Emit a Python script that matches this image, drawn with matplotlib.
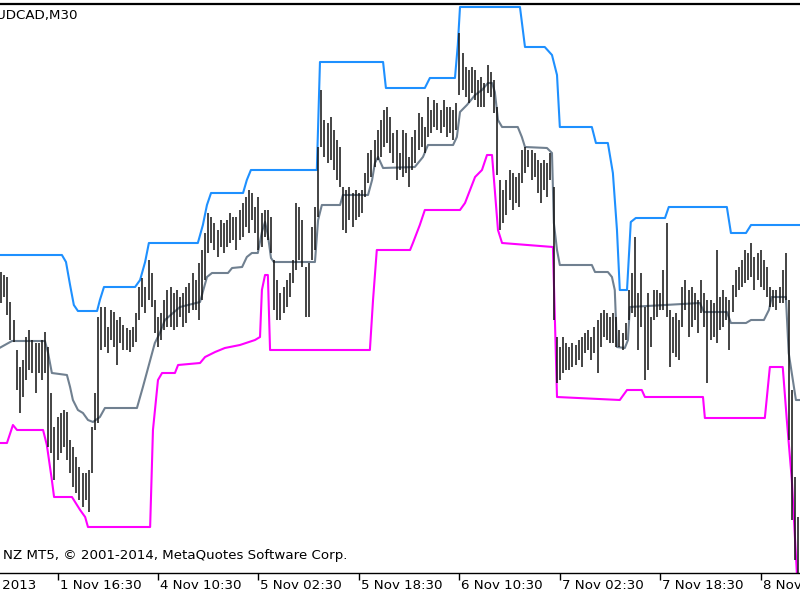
import numpy as np
import matplotlib.pyplot as plt

# bar highs / lows (M30 bars, price points)
highs = [328, 325, 323, 298, 280, 250, 233, 240, 263, 270,
         260, 257, 257, 260, 268, 253, 207, 173, 183, 187,
         190, 188, 160, 153, 143, 133, 127, 127, 130, 173,
         207, 283, 293, 293, 273, 290, 288, 280, 283, 275,
         272, 270, 273, 287, 313, 322, 313, 340, 327, 300,
         283, 287, 300, 310, 313, 307, 310, 303, 307, 313,
         317, 327, 320, 337, 350, 367, 387, 383, 377, 370,
         380, 377, 380, 387, 383, 383, 390, 397, 403, 410,
         407, 393, 403, 387, 390, 390, 383, 340, 320, 307,
         313, 320, 327, 340, 397, 393, 380, 333, 337, 373,
         393, 453, 510, 480, 477, 483, 470, 460, 453, 413,
         410, 413, 407, 410, 407, 410, 427, 447, 450, 460,
         470, 480, 490, 493, 483, 467, 470, 447, 470, 467,
         443, 463, 470, 487, 483, 473, 503, 490, 500, 497,
         490, 500, 493, 493, 490, 497, 567, 547, 533, 530,
         533, 530, 520, 523, 517, 535, 528, 520, 493, 420,
         410, 420, 430, 427, 423, 427, 450, 453, 450, 450,
         447, 440, 437, 440, 437, 447, 413, 263, 253, 263,
         257, 253, 257, 255, 260, 263, 267, 270, 263, 273,
         280, 287, 290, 287, 283, 287, 283, 270, 267, 277,
         310, 327, 363, 307, 327, 293, 307, 283, 310, 310,
         307, 330, 377, 290, 283, 287, 280, 313, 320, 310,
         313, 307, 300, 320, 307, 300, 300, 297, 350, 303,
         310, 303, 300, 315, 330, 333, 340, 350, 347, 357,
         343, 347, 350, 340, 333, 313, 310, 310, 313, 330,
         347, 300, 210, 123, 83]
lows = [297, 303, 285, 260, 258, 210, 187, 203, 220, 230,
        227, 207, 227, 220, 227, 153, 147, 120, 140, 147,
        153, 140, 127, 113, 107, 100, 93, 100, 88, 127,
        170, 177, 250, 253, 247, 260, 253, 235, 257, 250,
        250, 248, 253, 258, 280, 293, 287, 300, 293, 267,
        253, 260, 270, 273, 273, 270, 273, 283, 273, 277,
        287, 290, 290, 280, 300, 320, 347, 357, 350, 343,
        353, 347, 353, 357, 360, 350, 360, 363, 373, 367,
        380, 367, 350, 353, 363, 360, 347, 290, 280, 280,
        287, 293, 303, 317, 330, 340, 333, 283, 283, 340,
        350, 383, 453, 443, 437, 440, 430, 420, 413, 370,
        367, 380, 373, 380, 383, 387, 403, 417, 423, 433,
        440, 443, 453, 457, 447, 437, 420, 430, 423, 427,
        413, 430, 437, 450, 453, 447, 463, 467, 473, 470,
        467, 473, 463, 467, 460, 470, 505, 510, 503, 497,
        507, 500, 493, 493, 493, 507, 503, 487, 425, 370,
        377, 385, 400, 390, 397, 393, 417, 427, 433, 420,
        423, 407, 397, 410, 403, 420, 280, 217, 220, 227,
        230, 230, 233, 235, 240, 233, 247, 250, 240, 247,
        227, 253, 263, 260, 257, 257, 253, 253, 250, 260,
        280, 287, 283, 250, 273, 220, 230, 253, 280, 283,
        290, 290, 283, 233, 247, 243, 240, 273, 290, 263,
        273, 280, 267, 287, 273, 217, 260, 263, 257, 270,
        273, 280, 250, 288, 303, 310, 313, 317, 320, 323,
        310, 320, 313, 310, 303, 293, 293, 290, 297, 297,
        300, 160, 80, 40, 10]

# channel lines: (bar index, value) where the line changes
upper_x = [-0.5, 19.4, 20.7, 22.0, 23.2, 24.5, 30.6, 31.5, 32.8, 42.7, 44.3, 45.9, 47.1,
           62.7, 64.3, 65.6, 66.9, 77.1, 78.3, 79.6, 100.6, 101.6, 121.7, 122.6, 135.0,
           136.6, 144.6, 145.5, 146.2, 165.3, 166.9, 173.2, 175.5, 177.1, 178.0, 188.2,
           189.5, 193.3, 194.9, 196.2, 197.1, 199.4, 200.6, 202.2, 211.5, 212.7, 231.2,
           232.5, 237.3, 238.9, 254.5]
upper_y = [345, 345, 338, 315, 295, 289, 289, 300, 313, 313, 320, 338, 357,
           357, 375, 395, 407, 407, 420, 430, 430, 538, 538, 512, 512,
           522, 522, 555, 593, 593, 553, 553, 545, 525, 473, 473,
           457, 457, 427, 370, 310, 310, 378, 382, 382, 393, 393,
           367, 367, 375, 375]

lower_x = [-0.5, 1.9, 3.8, 5.1, 13.4, 14.6, 16.2, 16.9, 22.6, 25.2, 26.8, 27.7, 47.5,
           48.4, 50.0, 51.3, 55.4, 56.4, 63.4, 65.0, 68.2, 71.3, 76.1, 80.9, 82.5,
           83.1, 84.1, 85.0, 85.7, 117.5, 118.5, 119.7, 130.3, 131.2, 133.4, 135.0,
           146.2, 147.8, 151.0, 153.2, 154.8, 156.4, 158.3, 159.6, 175.8, 177.1,
           197.1, 199.4, 204.1, 205.1, 223.6, 224.2, 243.3, 244.9, 249.0, 250.3,
           251.9, 253.5, 254.5]
lower_y = [157, 157, 175, 170, 170, 155, 120, 103, 103, 90, 83, 73, 73,
           170, 220, 227, 227, 235, 237, 243, 248, 252, 255, 260, 263,
           310, 325, 325, 250, 250, 300, 350, 350, 357, 375, 390,
           390, 397, 423, 430, 445, 445, 370, 357, 353, 203,
           200, 210, 210, 203, 203, 182, 182, 233, 233, 180,
           120, 27, 0]

mid_x = [-0.5, 3.5, 14.0, 15.0, 16.2, 21.0, 22.0, 22.9, 24.5, 26.1, 27.7, 29.3, 31.5,
         33.1, 43.3, 45.2, 49.0, 50.6, 52.2, 57.0, 63.4, 65.6, 67.2, 72.3, 73.6,
         76.8, 78.3, 79.9, 81.8, 83.1, 84.1, 85.0, 86.0, 86.9, 100.0, 101.0, 102.2,
         108.0, 108.9, 116.9, 118.2, 119.1, 120.1, 121.7, 131.8, 134.4, 136.0,
         144.0, 145.2, 146.2, 148.4, 151.0, 153.2, 155.1, 156.4, 157.3, 158.3,
         159.6, 164.6, 165.9, 166.9, 173.9, 175.5, 176.1, 177.1, 178.0, 188.2,
         189.2, 193.3, 194.6, 195.5, 196.2, 198.7, 199.7, 200.3, 222.6, 223.9,
         231.2, 232.5, 237.3, 238.9, 243.0, 244.6, 245.5, 250.0, 250.9, 253.2, 254.5]
mid_y = [252, 259, 259, 247, 227, 225, 213, 200, 190, 187, 180, 178, 183,
         192, 192, 213, 257, 267, 280, 293, 298, 323, 327, 327, 332,
         333, 343, 347, 347, 368, 378, 365, 342, 338, 338, 380, 395,
         395, 405, 405, 420, 437, 443, 432, 433, 443, 455,
         455, 463, 488, 495, 505, 510, 517, 517, 508, 480,
         473, 473, 463, 453, 452, 447, 377, 350, 335, 335,
         328, 328, 323, 310, 253, 252, 260, 293, 297, 288,
         288, 277, 277, 280, 280, 290, 303, 303, 247, 200, 200]

tick_pos = [-14, 18, 50, 82, 114, 146, 178, 210, 242]
tick_labels = ['1 Nov 2013', '1 Nov 16:30', '4 Nov 10:30', '5 Nov 02:30', '5 Nov 18:30',
               '6 Nov 10:30', '7 Nov 02:30', '7 Nov 18:30', '8 Nov 10:30']

fig = plt.figure(figsize=(8, 6), dpi=100)
ax = fig.add_axes([0, 27 / 600, 1, 569 / 600])

idx = np.arange(len(highs))
ax.plot(upper_x, upper_y, color='#1E90FF', lw=1.5, zorder=2)
ax.plot(lower_x, lower_y, color='#FF00FF', lw=1.5, zorder=2)
ax.plot(mid_x, mid_y, color='#708090', lw=1.5, zorder=2)
ax.vlines(idx, lows, highs, color='#111111', lw=1.1, zorder=3)

ax.set_yticks([])
for s in ['left', 'right']:
    ax.spines[s].set_visible(False)
ax.spines['top'].set_linewidth(1.6)
ax.spines['bottom'].set_linewidth(1.0)

# ticks inside the view get tick marks; the first one is off the left edge
ax.set_xticks(tick_pos[1:])
ax.set_xticklabels([])
ax.tick_params(axis='x', direction='out', length=5, width=1)
ax.set_xlim(-0.32, 254.5)
ax.set_ylim(27, 596)
for p, lab in zip(tick_pos, tick_labels):
    ax.annotate(lab, xy=(p, 0), xycoords=('data', 'axes fraction'),
                xytext=(2, -6), textcoords='offset pixels',
                ha='left', va='top', fontsize=9.6, annotation_clip=False)

fig.text(78 / 800, 1 - 15 / 600, 'AUDCAD,M30', ha='right', va='center', fontsize=9.6)
fig.text(3 / 800, 1 - 555 / 600, 'NZ MT5, © 2001-2014, MetaQuotes Software Corp.',
         ha='left', va='center', fontsize=9.6)

fig.savefig('out.png', dpi=100)
